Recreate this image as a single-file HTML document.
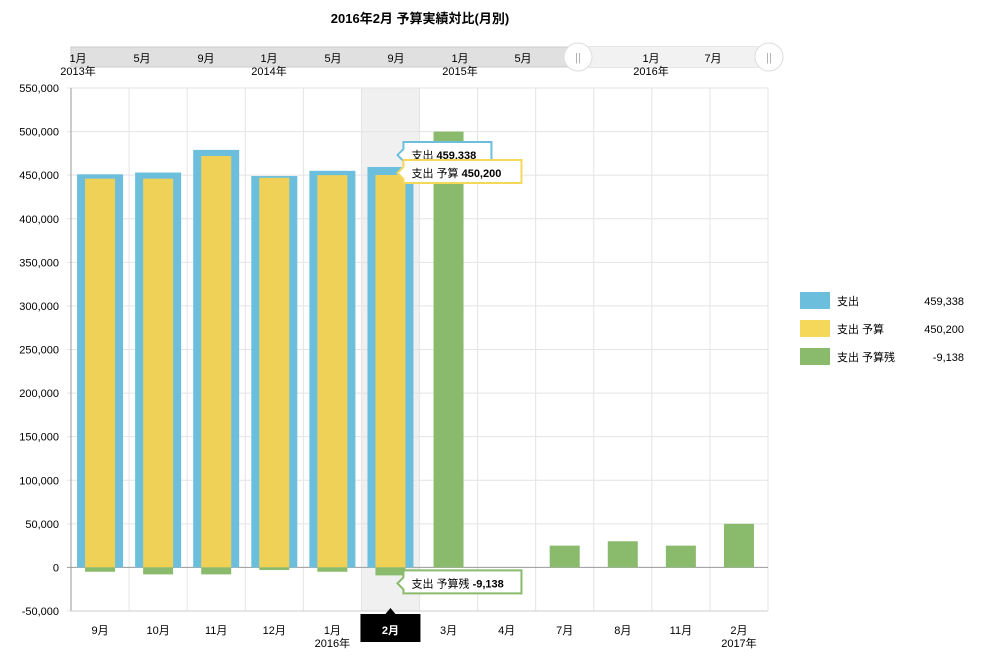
<!DOCTYPE html>
<html><head><meta charset="utf-8"><style>
body{margin:0;background:#fff;font-family:"Liberation Sans","Noto Sans CJK JP",sans-serif;}
svg text{font-family:"Liberation Sans","Noto Sans CJK JP",sans-serif;}
</style></head><body>
<svg id="c" width="984" height="660">
<text x="420" y="23" font-size="13" font-weight="bold" text-anchor="middle">2016年2月 予算実績対比(月別)</text>
<g>
<rect x="71" y="47" width="697" height="20" fill="#e0e0e0" stroke="#ccc"/>
<rect x="578" y="47" width="190" height="20" fill="#f2f2f2"/>
<g font-size="11" text-anchor="middle">
<text x="78" y="62">1月</text><text x="78" y="75">2013年</text>
<text x="142" y="62">5月</text><text x="206" y="62">9月</text>
<text x="269" y="62">1月</text><text x="269" y="75">2014年</text>
<text x="333" y="62">5月</text><text x="396" y="62">9月</text>
<text x="460" y="62">1月</text><text x="460" y="75">2015年</text>
<text x="523" y="62">5月</text>
<text x="651" y="62">1月</text><text x="651" y="75">2016年</text>
<text x="713" y="62">7月</text>
</g>
<circle cx="578" cy="57" r="14" fill="#fff" stroke="#ddd"/>
<circle cx="769" cy="57" r="14" fill="#fff" stroke="#ddd"/>
<text x="578" y="61" font-size="11" fill="#aaa" text-anchor="middle">||</text>
<text x="769" y="61" font-size="11" fill="#aaa" text-anchor="middle">||</text>
</g>
<g id="plot"></g>
<g font-size="11">
<rect x="800" y="292" width="30" height="17" fill="#6bbfdd"/>
<text x="837" y="305">支出</text><text x="964" y="305" text-anchor="end">459,338</text>
<rect x="800" y="320" width="30" height="17" fill="#f5d75a"/>
<text x="837" y="333">支出 予算</text><text x="964" y="333" text-anchor="end">450,200</text>
<rect x="800" y="348" width="30" height="17" fill="#8aba6c"/>
<text x="837" y="361">支出 予算残</text><text x="964" y="361" text-anchor="end">-9,138</text>
</g>
</svg>
<script>
const categories=["9月","10月","11月","12月","1月","2月","3月","4月","7月","8月","11月","2月"];
const yearLabels=["","","","","2016年","","","","","","","2017年"];
const spend=[451000,453000,479000,449000,455000,459338,null,null,null,null,null,null];
const budget=[446000,446000,472000,447000,450000,450200,null,null,null,null,null,null];
const remaining=[-5000,-8000,-8000,-3000,-5000,-9138,500000,0,25000,30000,25000,50000];
const yTicks=[-50000,0,50000,100000,150000,200000,250000,300000,350000,400000,450000,500000,550000];
const NS="http://www.w3.org/2000/svg";
const L=71,R=768,T=88,B=611,yMin=-50000,yMax=550000;
const bw=(R-L)/categories.length;
const y=v=>T+(yMax-v)/(yMax-yMin)*(B-T);
const xc=i=>L+bw*(i+0.5);
const g=document.getElementById('plot');
function mk(t,a,p){const e=document.createElementNS(NS,t);for(const k in a)e.setAttribute(k,a[k]);(p||g).appendChild(e);return e;}
const sel=5;
const hl=mk('rect',{x:L+bw*sel,y:T,width:bw,height:B-T,fill:'#f0f0f0'});


for(let i=0;i<=categories.length;i++){const l=mk('line',{x1:L+bw*i,x2:L+bw*i,y1:T,y2:B,stroke:'#e4e4e4'});

}
yTicks.forEach(v=>{const l=mk('line',{x1:L-4,x2:R,y1:y(v),y2:y(v),stroke:v===0?'#999':'#e4e4e4'});


const t=mk('text',{x:L-12,y:y(v)+4,'font-size':11,'text-anchor':'end'});t.textContent=v.toLocaleString('en-US');

});
mk('line',{x1:L,x2:L,y1:T,y2:B,stroke:'#999'});
mk('line',{x1:L,x2:R,y1:B,y2:B,stroke:'#ccc'});
categories.forEach((c,i)=>{
 if(spend[i]!=null){const r=mk('rect',{x:xc(i)-23,y:y(spend[i]),width:46,height:y(0)-y(spend[i]),fill:'#6bbfdd'});
 
 }
 if(budget[i]!=null){const r=mk('rect',{x:xc(i)-15,y:y(budget[i]),width:30,height:y(0)-y(budget[i]),fill:'#f0d157'});
 
 }
 const v=remaining[i];const r=mk('rect',{x:xc(i)-15,y:Math.min(y(v),y(0)),width:30,height:Math.abs(y(v)-y(0)),fill:'#8aba6c'});
 
 
 if(i===sel){
  mk('rect',{x:xc(i)-30,y:614,width:60,height:28,fill:'#000'});
  mk('path',{d:`M${xc(i)-5} 614 L${xc(i)} 608 L${xc(i)+5} 614Z`,fill:'#000'});
 }
 const t=mk('text',{x:xc(i),y:634,'font-size':11,'text-anchor':'middle',fill:i===sel?'#fff':'#000','font-weight':i===sel?'bold':'normal'});t.textContent=c;
 
 
 if(yearLabels[i]){const t2=mk('text',{x:xc(i),y:647,'font-size':11,'text-anchor':'middle'});t2.textContent=yearLabels[i];
 
 }
});
function tip(bx,by,w,col,label,val,name){
 const gg=mk('g',{});
 
 
 mk('path',{d:`M${bx} ${by} L${bx+6} ${by-6} L${bx+6} ${by-13} L${bx+6+w} ${by-13} L${bx+6+w} ${by+10} L${bx+6} ${by+10} L${bx+6} ${by+6}Z`,fill:'#fff',stroke:col,'stroke-width':2},gg);
 const t=mk('text',{x:bx+14,y:by+4,'font-size':11},gg);t.innerHTML=label+' <tspan font-weight="bold">'+val+'</tspan>';
}
const xs=xc(sel)+7;
tip(xs,y(spend[sel])-12,88,'#6bbfdd','支出',spend[sel].toLocaleString('en-US'),'tooltip-spend');
tip(xs,y(budget[sel])-2,118,'#f5d75a','支出 予算',budget[sel].toLocaleString('en-US'),'tooltip-budget');
tip(xs,y(remaining[sel])+8,118,'#8aba6c','支出 予算残',remaining[sel].toLocaleString('en-US'),'tooltip-remaining');
</script>
</body></html>
